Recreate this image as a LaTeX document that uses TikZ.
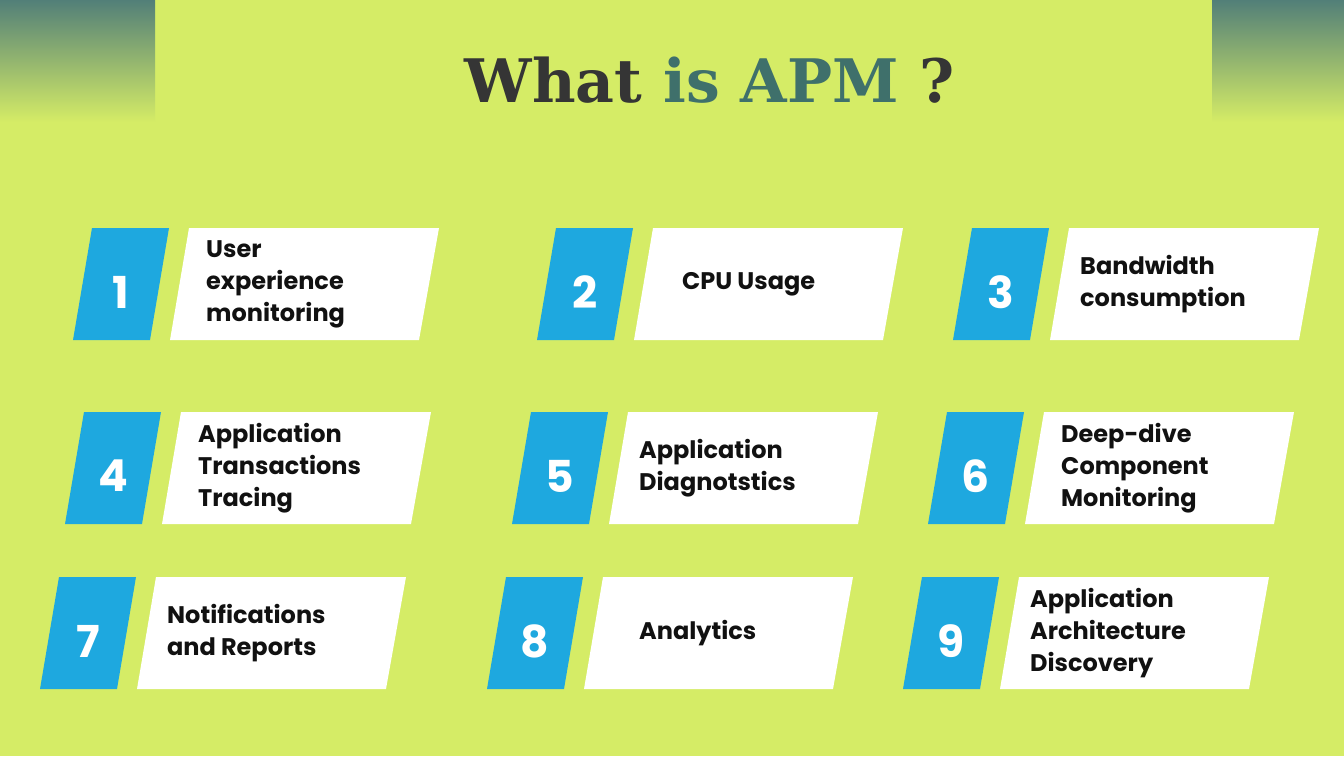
\documentclass[tikz,border=0pt]{standalone}
\usepackage{fontspec}
\setmainfont{Poppins}
\newfontfamily\titlefont{DejaVu Serif}
\usetikzlibrary{positioning}
\definecolor{lime}{HTML}{D5EC66}
\definecolor{teal}{HTML}{3F706B}
\definecolor{corner}{HTML}{527F78}
\definecolor{numblue}{HTML}{1EA8DF}
\definecolor{ink}{HTML}{111111}
\begin{document}
\begin{tikzpicture}[x=1pt,y=-1pt,
        numbox/.style={% blue number plate
            fill=numblue,
            },
        txtbox/.style={% white plate
            fill=white,
            },
        numlabel/.style={% the number
            text=white,
            font=\fontsize{44}{44}\selectfont\bfseries,
            },
        txtlabel/.style={% the item text
            text=ink,
            anchor=west,
            align=left,
            inner sep=0pt,
            font=\fontsize{24}{32}\selectfont\bfseries,
            },
            ]
         \useasboundingbox (0,0) rectangle (1344,756);
         \fill[lime] (0,0) rectangle (1344,756);
         % corners
         \shade[top color=corner,bottom color=lime] (0,0) rectangle (155,122);
         \shade[top color=corner,bottom color=lime] (1212,0) rectangle (1344,122);
         % title
         \node[font=\titlefont\bfseries\fontsize{60}{60}\selectfont] (title) at (710,80)
         {\textcolor{ink!85}{What} \textcolor{teal}{is APM} \textcolor{ink!85}{?}};
         % items: x of blue bottom-left / y top / number / text / text shift
         \foreach \X/\Y/\N/\T/\S in {
            73/228/1/{User\\experience\\monitoring}/36,
            537/228/2/{CPU Usage}/48,
            953/228/3/{Bandwidth\\consumption}/30,
            65/412/4/{Application\\Transactions\\Tracing}/36,
            512/412/5/{Application\\Diagnotstics}/30,
            928/412/6/{Deep-dive\\Component\\Monitoring}/36,
            40/577/7/{Notifications\\and Reports}/30,
            487/577/8/{Analytics}/55,
            903/577/9/{Application\\Architecture\\Discovery}/30}
         {\fill[numbox] (\X,\Y+112) -- ++(19,-112) -- ++(77,0) -- ++(-19,112) -- cycle;
          \fill[txtbox] (\X+97,\Y+112) -- ++(19,-112) -- ++(250,0) -- ++(-20,112) -- cycle;
          \node[numlabel] (n\N) at (\X+48,\Y+64) {\N};
          \node[txtlabel] (t\N) at (\X+97+\S,\Y+56) {\T};}
        \end{tikzpicture}
\end{document}
